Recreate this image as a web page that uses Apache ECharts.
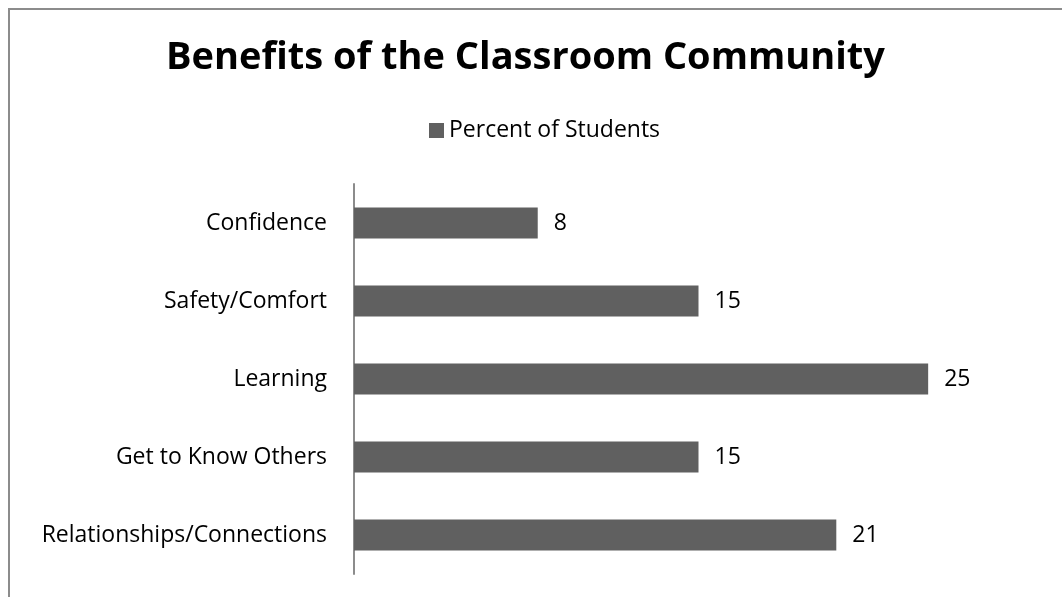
<!DOCTYPE html>
<html>
<head>
<meta charset="utf-8">
<script src="https://cdn.jsdelivr.net/npm/echarts@6/dist/echarts.min.js"></script>
<style>
html,body{margin:0;padding:0;background:#fff;}
#chart{width:1062px;height:597px;}
</style>
</head>
<body>
<div id="chart"></div>
<script>
// Categories listed bottom to top along the vertical axis
const categories = ['Relationships/Connections', 'Get to Know Others', 'Learning', 'Safety/Comfort', 'Confidence'];
const percentOfStudents = [21, 15, 25, 15, 8];
const seriesName = 'Percent of Students';
const titleText = 'Benefits of the Classroom Community';

const FONT = '"Open Sans", sans-serif';
const chart = echarts.init(document.getElementById('chart'));
chart.setOption({
  backgroundColor: '#fff',
  animation: false,
  graphic: [{
    type: 'rect',
    shape: { x: 9, y: 9, width: 1100, height: 650 },
    style: { fill: 'none', stroke: '#8c8c8c', lineWidth: 2 },
    z: -1
  }],
  title: {
    text: titleText,
    left: 161,
    top: 34,
    textStyle: { fontFamily: FONT, fontWeight: 'bold', fontSize: 38, color: '#000' }
  },
  legend: {
    data: [seriesName],
    top: 114,
    left: 424,
    icon: 'rect',
    itemWidth: 15,
    itemHeight: 15,
    itemGap: 5,
    textStyle: { fontFamily: FONT, fontSize: 23, color: '#000', padding: [0, 0, 0, 0] }
  },
  grid: { left: 354, top: 184, height: 390, width: 689, containLabel: false },
  xAxis: {
    type: 'value',
    min: 0,
    max: 30,
    show: false
  },
  yAxis: {
    type: 'category',
    data: categories,
    axisLine: { show: true, lineStyle: { color: '#8c8c8c', width: 2 } },
    axisTick: { show: false },
    axisLabel: { fontFamily: FONT, fontSize: 23, color: '#000', margin: 27 }
  },
  series: [{
    name: seriesName,
    type: 'bar',
    data: percentOfStudents,
    barWidth: 31,
    itemStyle: { color: '#606060' },
    label: {
      show: true,
      position: 'right',
      distance: 16,
      fontFamily: FONT,
      fontSize: 23,
      color: '#000'
    }
  }]
});
</script>
</body>
</html>
